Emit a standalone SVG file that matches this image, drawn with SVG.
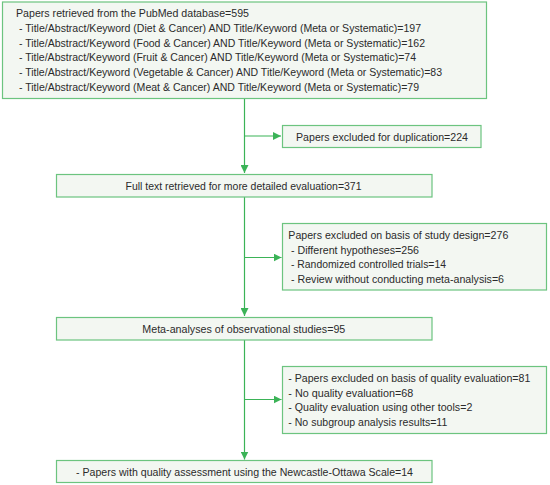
<svg xmlns="http://www.w3.org/2000/svg" width="550" height="485" viewBox="0 0 550 485">
<style>
.box{fill:#f3f7f2;stroke:#6cc47f;stroke-width:1.2}
.t{font-family:"Liberation Sans",Arial,sans-serif;font-size:11.5px;fill:#2b2b2b}
.c{fill:none;stroke:#3bb357;stroke-width:1.2}
</style>
<defs>
<marker id="ah" viewBox="0 0 10 10" refX="10" refY="5" markerWidth="8" markerHeight="8" markerUnits="userSpaceOnUse" orient="auto">
<path d="M0,0 L10,5 L0,10 Z" fill="#3bb357"/>
</marker>
</defs>
<rect width="550" height="485" fill="#ffffff"/>
<g id="connectors">
<path class="c" d="M244.5,98.5 V173" marker-end="url(#ah)"/>
<path class="c" d="M244.5,136 H281" marker-end="url(#ah)"/>
<path class="c" d="M244.5,197 V316" marker-end="url(#ah)"/>
<path class="c" d="M244.5,257.5 H281.5" marker-end="url(#ah)"/>
<path class="c" d="M244.5,340 V459.5" marker-end="url(#ah)"/>
<path class="c" d="M244.5,399.5 H281.5" marker-end="url(#ah)"/>
</g>
<g id="n1">
<rect class="box" x="2.5" y="2" width="484" height="96.5"/>
<text class="t" x="16" y="17.2" textLength="233" lengthAdjust="spacingAndGlyphs">Papers retrieved from the PubMed database=595</text>
<text class="t" x="19" y="32" textLength="402" lengthAdjust="spacingAndGlyphs">- Title/Abstract/Keyword (Diet &amp; Cancer) AND Title/Keyword (Meta or Systematic)=197</text>
<text class="t" x="19" y="46.7" textLength="406" lengthAdjust="spacingAndGlyphs">- Title/Abstract/Keyword (Food &amp; Cancer) AND Title/Keyword (Meta or Systematic)=162</text>
<text class="t" x="19" y="61.4" textLength="397" lengthAdjust="spacingAndGlyphs">- Title/Abstract/Keyword (Fruit &amp; Cancer) AND Title/Keyword (Meta or Systematic)=74</text>
<text class="t" x="19" y="76.1" textLength="423" lengthAdjust="spacingAndGlyphs">- Title/Abstract/Keyword (Vegetable &amp; Cancer) AND Title/Keyword (Meta or Systematic)=83</text>
<text class="t" x="19" y="90.8" textLength="400" lengthAdjust="spacingAndGlyphs">- Title/Abstract/Keyword (Meat &amp; Cancer) AND Title/Keyword (Meta or Systematic)=79</text>
</g>
<g id="n2">
<rect class="box" x="282.5" y="125.5" width="198.5" height="22"/>
<text class="t" x="296" y="141" textLength="172" lengthAdjust="spacingAndGlyphs">Papers excluded for duplication=224</text>
</g>
<g id="n3">
<rect class="box" x="56.5" y="174.5" width="375.5" height="22.5"/>
<text class="t" x="125.5" y="190" textLength="236" lengthAdjust="spacingAndGlyphs">Full text retrieved for more detailed evaluation=371</text>
</g>
<g id="n4">
<rect class="box" x="282.5" y="223.5" width="264" height="66.5"/>
<text class="t" x="288.3" y="239" textLength="220" lengthAdjust="spacingAndGlyphs">Papers excluded on basis of study design=276</text>
<text class="t" x="291" y="253.7" textLength="128" lengthAdjust="spacingAndGlyphs">- Different hypotheses=256</text>
<text class="t" x="291" y="268.4" textLength="155" lengthAdjust="spacingAndGlyphs">- Randomized controlled trials=14</text>
<text class="t" x="291" y="283.1" textLength="213" lengthAdjust="spacingAndGlyphs">- Review without conducting meta-analysis=6</text>
</g>
<g id="n5">
<rect class="box" x="56.5" y="317.5" width="375.5" height="22.5"/>
<text class="t" x="142.3" y="333.3" textLength="203" lengthAdjust="spacingAndGlyphs">Meta-analyses of observational studies=95</text>
</g>
<g id="n6">
<rect class="box" x="282.5" y="366.5" width="264" height="67"/>
<text class="t" x="288.3" y="382.2" textLength="242" lengthAdjust="spacingAndGlyphs">- Papers excluded on basis of quality evaluation=81</text>
<text class="t" x="288.3" y="396.8" textLength="125" lengthAdjust="spacingAndGlyphs">- No quality evaluation=68</text>
<text class="t" x="288.3" y="411.4" textLength="184" lengthAdjust="spacingAndGlyphs">- Quality evaluation using other tools=2</text>
<text class="t" x="288.3" y="426" textLength="159" lengthAdjust="spacingAndGlyphs">- No subgroup analysis results=11</text>
</g>
<g id="n7">
<rect class="box" x="56.5" y="460.5" width="375.5" height="22"/>
<text class="t" x="76" y="475.5" textLength="337" lengthAdjust="spacingAndGlyphs">- Papers with quality assessment using the Newcastle-Ottawa Scale=14</text>
</g>
</svg>
